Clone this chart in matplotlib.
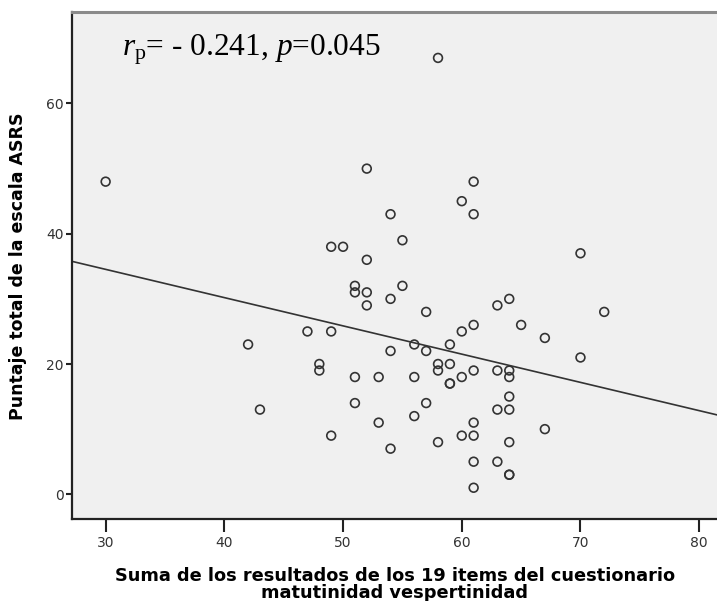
import numpy as np
import matplotlib
matplotlib.use("Agg")
import matplotlib.pyplot as plt

# Suma cuestionario matutinidad-vespertinidad (x) vs puntaje ASRS (y)
mev_scores = [30, 58, 42, 43, 52, 61, 60, 61, 54, 55,
              49, 50, 52, 51, 51, 52, 55, 54, 52, 57,
              47, 49, 60, 61, 56, 59, 54, 57, 48, 48,
              51, 53, 56, 58, 58, 59, 59, 59, 60, 61,
              51, 57, 56, 53, 61, 49, 60, 61, 58, 54,
              61, 61, 70, 63, 64, 72, 65, 67, 70, 63,
              64, 64, 64, 63, 64, 67, 64, 63, 64, 64]
asrs_scores = [48, 67, 23, 13, 50, 48, 45, 43, 43, 39,
               38, 38, 36, 32, 31, 31, 32, 30, 29, 28,
               25, 25, 25, 26, 23, 23, 22, 22, 20, 19,
               18, 18, 18, 20, 19, 20, 17, 17, 18, 19,
               14, 14, 12, 11, 11, 9, 9, 9, 8, 7,
               5, 1, 37, 29, 30, 28, 26, 24, 21, 19,
               19, 18, 15, 13, 13, 10, 8, 5, 3, 3]

x_ticks = [30, 40, 50, 60, 70, 80]
y_ticks = [0, 20, 40, 60]
stat_label = r"$r_{\mathrm{p}}$= - 0.241, $p$=0.045"

plt.rcParams['mathtext.fontset'] = 'custom'
plt.rcParams['mathtext.rm'] = 'Liberation Serif'
plt.rcParams['mathtext.it'] = 'Liberation Serif:italic'

fig = plt.figure(figsize=(7.17, 6.01), dpi=100)
ax = fig.add_axes([0.1008, 0.136, 0.8992, 0.8435])
ax.set_facecolor('#f0f0f0')

x = np.array(mev_scores, dtype=float)
y = np.array(asrs_scores, dtype=float)
ax.scatter(x, y, s=40, facecolors='none', edgecolors='#333333', linewidths=1.2, zorder=3)

# linear fit line across the full x range
xlim = (27.19, 81.5)
slope, intercept = np.polyfit(x, y, 1)
xs = np.array(xlim)
ax.plot(xs, intercept + slope * xs, color='#333333', lw=1.2, zorder=2)

ax.set_xlim(*xlim)
ax.set_ylim(-3.84, 74.0)
ax.set_xticks(x_ticks)
ax.set_yticks(y_ticks)
ax.tick_params(axis='x', length=9, width=1.5, color='#222222', labelsize=10, labelcolor='#333333', pad=3)
ax.tick_params(axis='y', length=4, width=1.5, color='#222222', labelsize=10, labelcolor='#333333', pad=2)

for side in ['left', 'bottom']:
    ax.spines[side].set_linewidth(1.6)
    ax.spines[side].set_color('#222222')
ax.spines['top'].set_linewidth(2.2)
ax.spines['top'].set_color('#8a8a8a')
ax.spines['right'].set_visible(False)

ax.set_xlabel('Suma de los resultados de los 19 items del cuestionario\nmatutinidad vespertinidad',
              fontsize=12.8, fontweight='bold', linespacing=0.95, labelpad=12)
ax.set_ylabel('Puntaje total de la escala ASRS', fontsize=12.5, fontweight='bold', labelpad=14)

fig.text(121.7 / 717, 1 - 55.7 / 601, stat_label, fontsize=22.6, family='Liberation Serif',
         ha='left', va='baseline')

fig.savefig('out.png', dpi=100)
